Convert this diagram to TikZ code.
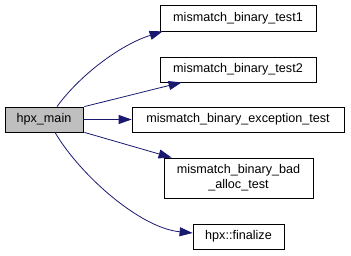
\documentclass[tikz,border=0pt]{standalone}
\usepackage{fontspec}
\setmainfont{Liberation Sans}
\usetikzlibrary{arrows.meta}

\definecolor{edgeblue}{RGB}{25,25,112}
\definecolor{maingray}{RGB}{191,191,191}

\tikzset{
	fn/.style={draw=black, line width=0.8pt, fill=white, inner sep=0pt,
		align=center, font=\fontsize{12.6}{15}\selectfont},
	call/.style={draw=edgeblue, line width=0.8pt,
		-{Triangle[length=13pt,width=9pt]}}
}

\begin{document}
\begin{tikzpicture}[x=1pt, y=-1pt]
	\useasboundingbox (0,0) rectangle (351,256);

	% caller
	\node[fn, fill=maingray, minimum width=78pt, minimum height=25pt] (main) at (44,119.5) {hpx\_main};

	% callees
	\node[fn, minimum width=156pt, minimum height=26pt] (test1) at (238,18) {mismatch\_binary\_test1};
	\node[fn, minimum width=156pt, minimum height=25pt] (test2) at (238,69.5) {mismatch\_binary\_test2};
	\node[fn, minimum width=212pt, minimum height=25pt] (exc) at (238,119.5) {mismatch\_binary\_exception\_test};
	\node[fn, minimum width=149pt, minimum height=40pt] (badalloc) at (238.5,178) {mismatch\_binary\_bad\\\_alloc\_test};
	\node[fn, minimum width=91pt, minimum height=25pt] (fin) at (238.5,236.5) {hpx::finalize};

	% calls
	\draw[call] ([xshift=13pt]main.north) ..
	    controls (80,75) and (120,45)
	    .. ([xshift=3pt]test1.south west);
	\draw[call] ([xshift=1pt]main.north east) -- ([xshift=22pt]test2.south west);
	\draw[call] (main.east) -- (exc.west);
	\draw[call] ([xshift=1pt]main.south east) -- ([xshift=8pt]badalloc.north west);
	\draw[call] ([xshift=11pt]main.south) ..
	    controls (80,175) and (140,228)
	    .. ([yshift=3.5pt]fin.west);
\end{tikzpicture}
\end{document}
